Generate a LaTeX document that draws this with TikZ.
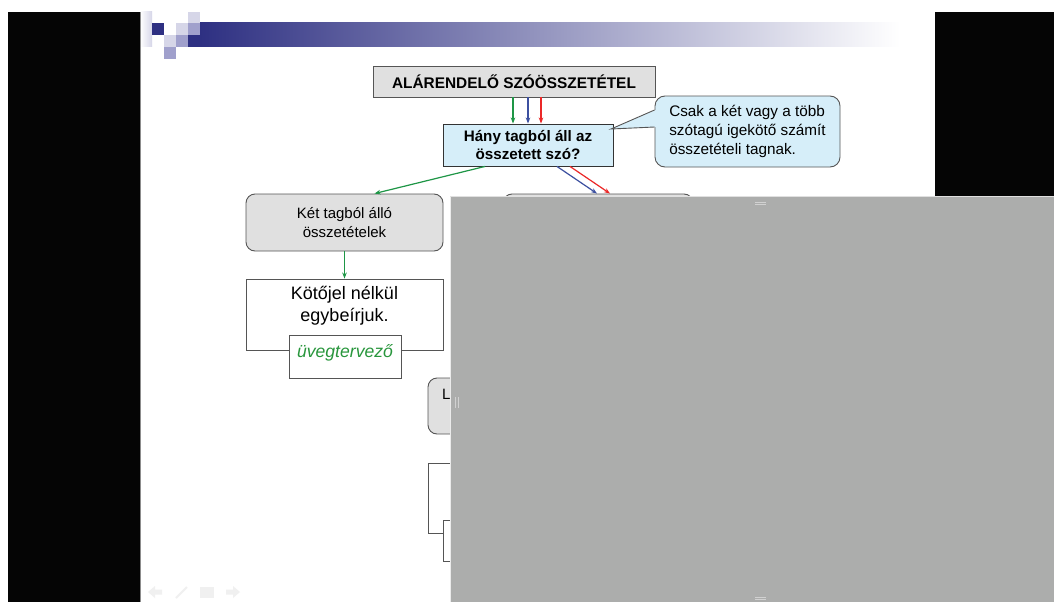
\documentclass[tikz,border=0pt]{standalone}
\usepackage{fontspec}
\setmainfont{Liberation Sans}
\usetikzlibrary{arrows.meta}

\definecolor{slidenavy}{RGB}{46,48,130}
\definecolor{lavlight}{RGB}{214,214,232}
\definecolor{lavmid}{RGB}{160,160,204}
\definecolor{boxgray}{RGB}{224,224,224}
\definecolor{qblue}{RGB}{214,238,249}
\definecolor{edgegray}{RGB}{85,85,85}
\definecolor{arrgreen}{RGB}{30,150,70}
\definecolor{arrblue}{RGB}{60,80,160}
\definecolor{arrred}{RGB}{235,40,40}
\definecolor{exgreen}{RGB}{40,150,60}
\definecolor{veil}{RGB}{172,173,172}

\begin{document}
\begin{tikzpicture}[x=1pt,y=-1pt,>={Stealth[length=6pt,width=4.5pt]},
    titlebox/.style={draw=edgegray,line width=0.9pt,fill=boxgray,inner sep=0pt,
        minimum width=282pt,minimum height=31pt,font=\bfseries\fontsize{15.4}{18}\selectfont},
    askbox/.style={draw=black!80,line width=0.9pt,fill=qblue,inner sep=0pt,align=center,
        minimum width=170pt,minimum height=42pt,font=\bfseries\fontsize{15.2}{18.5}\selectfont},
    notebox/.style={draw=edgegray,line width=0.9pt,fill=qblue,rounded corners=10pt,inner sep=0pt,
        align=left,minimum width=185pt,minimum height=71pt,font=\fontsize{15.3}{19}\selectfont},
    groupbox/.style={draw=edgegray,line width=0.9pt,fill=boxgray,rounded corners=9pt,inner sep=0pt,
        align=center,minimum width=197pt,minimum height=57pt,font=\fontsize{15}{18.5}\selectfont},
    rulebox/.style={draw=edgegray,line width=0.9pt,fill=white,inner sep=0pt,minimum width=197pt},
    samplebox/.style={draw=edgegray,line width=0.9pt,fill=white,inner sep=0pt,
        minimum width=112pt,minimum height=43pt},
    greenarrow/.style={->,draw=arrgreen,line width=1.2pt},
    bluearrow/.style={->,draw=arrblue,line width=1.2pt},
    redarrow/.style={->,draw=arrred,line width=1.2pt}]

    \useasboundingbox (0,0) rectangle (1054,602);
    \fill[white] (0,0) rectangle (1054,602);

    % slide header
    \shade[left color=slidenavy,right color=white] (200,23) rectangle (900,47);
    \shade[left color=white,right color=lavlight] (140,12) rectangle (152,47);
    \fill[slidenavy] (152,23) rectangle (164,35);
    \fill[lavlight] (188,12) rectangle (200,23);
    \fill[lavmid] (188,23) rectangle (200,35);
    \fill[slidenavy] (188,35) rectangle (200,47);
    \fill[lavlight] (176,23) rectangle (188,35);
    \fill[lavmid] (176,35) rectangle (188,47);
    \fill[lavlight] (164,35) rectangle (176,47);
    \fill[lavmid] (164,47) rectangle (176,59);

    % Define vertices
    \node[titlebox] (title) at (514,81.5) {ALÁRENDELŐ SZÓÖSSZETÉTEL};
    \node[askbox] (question) at (528,145) {Hány tagból áll az\\összetett szó?};
    \node[notebox] (note) at (747.5,131.5) {Csak a két vagy a több\\szótagú igekötő számít\\összetételi tagnak.};
    \node[groupbox] (ket) at (344.5,222.5) {Két tagból álló\\összetételek};
    \node[groupbox,minimum width=190pt] (tobb) at (598,222.5) {};
    \node[rulebox,minimum height=71pt] (kotojel) at (344.5,314.5) {};
    \node[font=\fontsize{18}{22}\selectfont,align=center,inner sep=0pt] (kotojeltext) at (344.5,306) {Kötőjel nélkül\\egybeírjuk.};
    \node[samplebox,text depth=10pt,font=\itshape\fontsize{17.6}{20}\selectfont,text=exgreen] (pelda) at (345,356.5) {üvegtervező};
    \node[groupbox,minimum width=340pt,minimum height=56pt] (lbox) at (598,406) {};
    \node[anchor=base west,inner sep=0pt,font=\fontsize{15}{18}\selectfont] (ltext) at (442,399) {L};
    \node[rulebox,minimum width=340pt,minimum height=70pt] (wbox) at (598,498) {};
    \node[samplebox,minimum height=41pt] (sbox) at (499,540.5) {};

    % callout tail
    \coordinate (tip) at (611,129);
    \coordinate (tailtop) at ([yshift=21.5pt]note.west);
    \coordinate (tailbot) at ([yshift=4.5pt]note.west);
    \fill[qblue] ([xshift=1.2pt]tailtop) -- (tip) -- ([xshift=1.2pt]tailbot) -- cycle;
    \draw[edgegray,line width=0.9pt] (tailtop) -- (tip) -- (tailbot);

    % Draw edges
    \coordinate (qg) at ([xshift=-15pt]question.north);
    \coordinate (qb) at (question.north);
    \coordinate (qr) at ([xshift=13pt]question.north);
    \path
        (title.south -| qg) edge[greenarrow] (qg)
        (title.south -| qb) edge[bluearrow] (qb)
        (title.south -| qr) edge[redarrow] (qr)
        ([xshift=-43pt]question.south) edge[greenarrow] ([xshift=30pt]ket.north)
        ([xshift=29pt]question.south) edge[bluearrow] ([xshift=-1pt]tobb.north)
        ([xshift=42pt]question.south) edge[redarrow] ([xshift=12pt]tobb.north)
        (ket.south) edge[greenarrow] (kotojel.north);

    % viewer frame and panel on top
    \fill[black!98] (8,12) rectangle (140,602);
    \fill[black!98] (935,12) rectangle (1054,197);
    \draw[black!45,line width=0.6pt] (140.5,12) -- (140.5,602);
    \fill[veil] (450,197) rectangle (1054,602);
    \draw[black!12,line width=1pt] (450,196.5) -- (1054,196.5);
    \draw[black!8,line width=0.6pt] (450.5,197) -- (450.5,602);
    \draw[black!18,line width=0.8pt] (755,202) -- (766,202) (755,204.5) -- (766,204.5)
        (755,597) -- (766,597) (755,599.5) -- (766,599.5)
        (455,397) -- (455,408) (458,397) -- (458,408);

    % faint navigation icons
    \fill[black!6] (148,592) -- (155,586) -- (155,589.5) -- (162,589.5) -- (162,594.5) -- (155,594.5) -- (155,598) -- cycle;
    \draw[black!6,line width=2pt] (176,598) -- (187,587);
    \fill[black!6] (200,587) rectangle (214,598);
    \fill[black!6] (240,592) -- (233,586) -- (233,589.5) -- (226,589.5) -- (226,594.5) -- (233,594.5) -- (233,598) -- cycle;
\end{tikzpicture}
\end{document}
